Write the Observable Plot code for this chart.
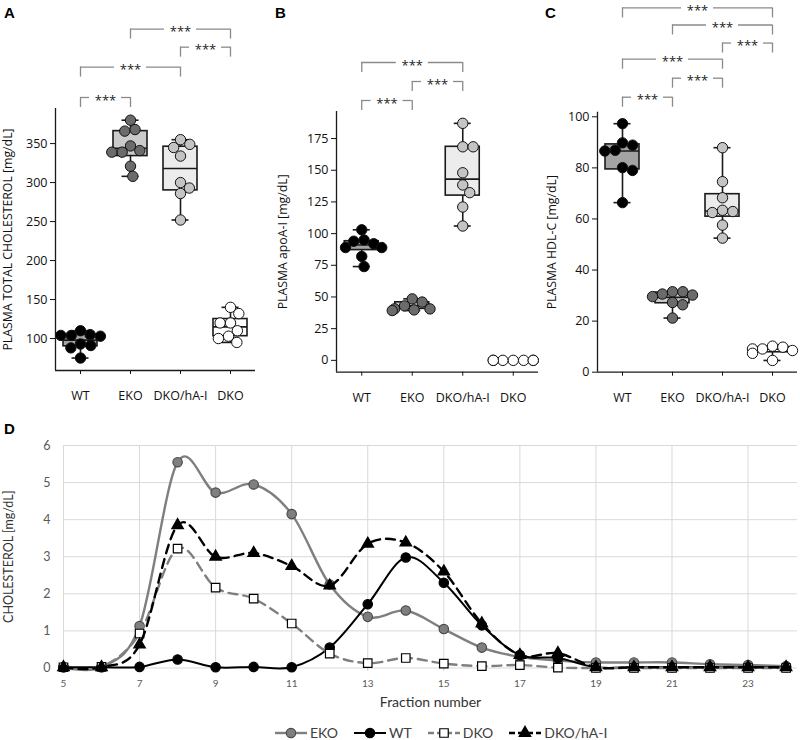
<!DOCTYPE html>
<html><head><meta charset="utf-8">
<script src="https://cdn.jsdelivr.net/npm/d3@7"></script>
<script src="https://cdn.jsdelivr.net/npm/@observablehq/plot@0.6"></script>
<style>
body{margin:0;background:#fff;}
#wrap{position:relative;width:800px;height:740px;overflow:hidden;font-family:"Open Sans",sans-serif;background:#fff;}
.panel{position:absolute;}
.letter{position:absolute;font:bold 15px "Liberation Sans",Arial,sans-serif;color:#000;line-height:15px;}
g[aria-label="sig"] text{letter-spacing:3px;}
</style></head><body><div id="wrap"></div>
<script>
// ---------- categories ----------
const groups = ["WT", "EKO", "DKO/hA-I", "DKO"];

// ---------- Panel A: plasma total cholesterol (mg/dL) ----------
const aWT    = [110, 105, 104, 104, 103, 93, 91, 88, 75];
const aEKO   = [380, 368, 366, 347, 341, 339, 339, 321, 308];
const aDKOhA = [355, 349, 345, 334, 300, 293, 286, 252];
const aDKO   = [140, 132, 120, 120, 110, 103, 100, 95];
const aQ1  = [90, 334, 290, 103];
const aMed = [98, 344, 318, 115];
const aQ3  = [105, 366, 346, 125];
const aTicks = [100, 150, 200, 250, 300, 350];
const aPairs = [["WT", "EKO"], ["WT", "DKO/hA-I"], ["DKO/hA-I", "DKO"], ["EKO", "DKO"]];
const aLevels = [0, 1.6, 2.65, 3.6];

// ---------- Panel B: plasma apoA-I (mg/dL) ----------
const bWT    = [103, 95, 94, 92, 89, 89, 82, 74];
const bEKO   = [48.5, 46, 43, 40.6, 40.6, 39.8, 39.3];
const bDKOhA = [187, 168.5, 168.5, 148, 138.4, 132.3, 121, 106];
const bDKO   = [0, 0, 0, 0, 0, 0, 0];
const bQ1  = [87, 40.6, 130, 0];
const bMed = [91, 43, 143, 0];
const bQ3  = [94, 45.8, 168.5, 0];
const bTicks = [0, 25, 50, 75, 100, 125, 150, 175];
const bPairs = [["WT", "EKO"], ["EKO", "DKO/hA-I"], ["WT", "DKO/hA-I"]];
const bLevels = [0, 1, 2];

// ---------- Panel C: plasma HDL-C (mg/dL) ----------
const cWT    = [97.3, 89.8, 88.9, 86.9, 86.6, 80.1, 79, 66.4];
const cEKO   = [31.5, 31.5, 30.6, 30.2, 29.6, 27.3, 26.4, 21.2];
const cDKOhA = [87.9, 74.6, 68.3, 63.4, 62.9, 62.5, 57.6, 52.5];
const cDKO   = [10.2, 9.8, 9.1, 9.1, 8.5, 7.4, 4.6];
const cQ1  = [79.4, 27, 60.9, 7.8];
const cMed = [86.6, 29.3, 63.1, 9];
const cQ3  = [89.2, 31.2, 69.7, 9.8];
const cTicks = [0, 20, 40, 60, 80, 100];
const cPairs = [["WT", "EKO"], ["EKO", "DKO/hA-I"], ["WT", "DKO/hA-I"], ["DKO/hA-I", "DKO"], ["EKO", "DKO"], ["WT", "DKO"]];
const cLevels = [0, 1, 2, 2.85, 3.8, 4.7];
const sigLabel = "***";

// ---------- Panel D: FPLC cholesterol profile (mg/dL) ----------
const fractions = [5, 6, 7, 8, 9, 10, 11, 12, 13, 14, 15, 16, 17, 18, 19, 20, 21, 22, 23, 24];
const dEKO   = [0.02, 0.03, 1.13, 5.55, 4.73, 4.95, 4.15, 2.25, 1.38, 1.55, 1.05, 0.55, 0.3, 0.2, 0.15, 0.15, 0.15, 0.1, 0.08, 0.05];
const dWT    = [0.02, 0.02, 0.03, 0.23, 0.02, 0.03, 0.02, 0.55, 1.72, 2.98, 2.3, 1.15, 0.35, 0.27, 0.02, 0.02, 0.02, 0.02, 0.02, 0.02];
const dDKO   = [0.02, 0.03, 0.93, 3.22, 2.17, 1.87, 1.2, 0.39, 0.13, 0.27, 0.12, 0.05, 0.08, 0.01, 0.0, 0.0, 0.0, 0.0, 0.0, 0.0];
const dDKOhA = [0.02, 0.02, 0.63, 3.85, 3.0, 3.1, 2.75, 2.22, 3.35, 3.38, 2.6, 1.2, 0.35, 0.4, 0.02, 0.02, 0.02, 0.02, 0.02, 0.02];
const dXTicks = [5, 7, 9, 11, 13, 15, 17, 19, 21, 23];
const dYTicks = [0, 1, 2, 3, 4, 5, 6];
const seriesNames = ["EKO", "WT", "DKO", "DKO/hA-I"];

// ---------- styles ----------
const ptFill  = ["#000000", "#6b6b6b", "#c4c4c4", "#ffffff"];
const boxFill = ["#a3a3a3", "#cbcbcb", "#ececec", "#ffffff"];

const wrap = document.getElementById("wrap");

function swarmOffsets(pys, r, lim) {
  const order = d3.range(pys.length).sort((a, b) => pys[b] - pys[a]);
  const placed = [], off = new Array(pys.length), d2 = 4 * r * r;
  for (const i of order) {
    const y = pys[i];
    const near = placed.filter(p => Math.abs(p.y - y) < 2 * r);
    const cands = [0];
    for (const p of near) { const dx = Math.sqrt(d2 - (p.y - y) ** 2); cands.push(p.x + dx, p.x - dx); }
    cands.sort((a, b) => Math.abs(a) - Math.abs(b));
    let x = cands.find(c => near.every(p => (p.x - c) ** 2 + (p.y - y) ** 2 >= d2 - 1e-6));
    if (x === undefined) x = 0;
    placed.push({x, y}); off[i] = x;
  }
  return off.map(x => Math.max(-lim, Math.min(lim, x)));
}

function boxPanel(o) {
  const {values, q1, med, q3, yDomain, yTicks, yLabel, labelDx, pairs, levels, base,
         left, width, height, marginLeft, marginRight, marginTop, marginBottom} = o;
  const innerH = height - marginTop - marginBottom;
  const innerW = width - marginLeft - marginRight;
  const [y0, y1] = yDomain;
  const kY = innerH / (y1 - y0), kX = innerW / 4;
  const r = 5.2;
  const pts = [];
  values.forEach((vals, gi) => {
    const offs = swarmOffsets(vals.map(v => v * kY), r, 20);
    vals.forEach((v, j) => pts.push({g: gi, x: gi + offs[j] / kX, y: v}));
  });
  const boxes = groups.map((g, i) => ({i, q1: q1[i], med: med[i], q3: q3[i], lo: d3.min(values[i]), hi: d3.max(values[i])}));
  const bw = 17 / kX, cw = 8.5 / kX, gap = 16 / kX;
  const segs = [], drops = [], labs = [];
  pairs.forEach(([a, b], k) => {
    const ia = groups.indexOf(a), ib = groups.indexOf(b);
    const py = base + levels[k] * 19;
    const yv = y1 + py / kY, yd = y1 + (py - 10) / kY, mid = (ia + ib) / 2;
    segs.push({x1: ia, x2: mid - gap, y: yv}, {x1: mid + gap, x2: ib, y: yv});
    drops.push({x: ia, y1: yd, y2: yv}, {x: ib, y1: yd, y2: yv});
    labs.push({x: mid, y: yv, t: sigLabel});
  });
  const lw = 1.6, ink = "#1a1a1a";
  const svg = Plot.plot({
    width, height, marginLeft, marginRight, marginTop, marginBottom,
    style: {fontFamily: "Open Sans", fontSize: "12.5px", color: "#111", background: "transparent", overflow: "visible"},
    color: {type: "identity"},
    x: {domain: [-0.5, 3.5], ticks: [0, 1, 2, 3], tickFormat: i => groups[i], tickSize: 4, tickPadding: 17, label: null},
    y: {domain: yDomain, ticks: yTicks, tickFormat: d => String(d), tickSize: 5, tickPadding: 3, label: null},
    marks: [
      Plot.rect(boxes, {x1: d => d.i - bw, x2: d => d.i + bw, y1: "q1", y2: "q3", fill: d => boxFill[d.i], stroke: ink, strokeWidth: lw}),
      Plot.ruleX(boxes, {x: "i", y1: "q3", y2: "hi", stroke: ink, strokeWidth: lw}),
      Plot.ruleX(boxes, {x: "i", y1: "lo", y2: "q1", stroke: ink, strokeWidth: lw}),
      Plot.ruleY(boxes, {y: "hi", x1: d => d.i - cw, x2: d => d.i + cw, stroke: ink, strokeWidth: lw}),
      Plot.ruleY(boxes, {y: "lo", x1: d => d.i - cw, x2: d => d.i + cw, stroke: ink, strokeWidth: lw}),
      Plot.ruleY(boxes, {y: "med", x1: d => d.i - bw, x2: d => d.i + bw, stroke: ink, strokeWidth: lw}),
      Plot.dot(pts, {x: "x", y: "y", r, fill: d => ptFill[d.g], stroke: "#111", strokeWidth: 1}),
      Plot.ruleX([-0.5], {y1: y0, y2: y1, stroke: ink, strokeWidth: 1.3}),
      Plot.ruleY([y0], {x1: -0.5, x2: 3.5, stroke: ink, strokeWidth: 1.3}),
      Plot.ruleY(segs, {y: "y", x1: "x1", x2: "x2", stroke: "#8a8a8a", strokeWidth: 1.3}),
      Plot.ruleX(drops, {x: "x", y1: "y1", y2: "y2", stroke: "#8a8a8a", strokeWidth: 1.3}),
      Plot.text(labs, {x: "x", y: "y", text: "t", lineAnchor: "bottom", dy: 7, fontSize: 13, fill: "#222", ariaLabel: "sig"}),
      Plot.text([yLabel], {text: d => d, frameAnchor: "left", textAnchor: "middle", rotate: -90, dx: labelDx, fontSize: 12.3, fill: "#111"})
    ]
  });
  svg.classList.add("panel");
  svg.style.left = left + "px"; svg.style.top = "0px";
  wrap.appendChild(svg);
}

boxPanel({values: [aWT, aEKO, aDKOhA, aDKO], q1: aQ1, med: aMed, q3: aQ3, yDomain: [59, 395], yTicks: aTicks,
  yLabel: "PLASMA TOTAL CHOLESTEROL [mg/dL]", labelDx: -47, pairs: aPairs, levels: aLevels, base: 11,
  left: 0, width: 262, height: 405, marginLeft: 55, marginRight: 7, marginTop: 108, marginBottom: 35});
boxPanel({values: [bWT, bEKO, bDKOhA, bDKO], q1: bQ1, med: bMed, q3: bQ3, yDomain: [-9.35, 196.35], yTicks: bTicks,
  yLabel: "PLASMA apoA-I [mg/dL]", labelDx: -53, pairs: bPairs, levels: bLevels, base: 11,
  left: 262, width: 280, height: 405, marginLeft: 74, marginRight: 4, marginTop: 111, marginBottom: 33.3});
boxPanel({values: [cWT, cEKO, cDKOhA, cDKO], q1: cQ1, med: cMed, q3: cQ3, yDomain: [0, 101.8], yTicks: cTicks,
  yLabel: "PLASMA HDL-C [mg/dL]", labelDx: -45, pairs: cPairs, levels: cLevels, base: 15,
  left: 530, width: 270, height: 405, marginLeft: 67, marginRight: 3, marginTop: 111.7, marginBottom: 33.3});

// ---------- Panel D ----------
const seriesVals = [dEKO, dWT, dDKO, dDKOhA];
const seriesStyle = [
  {stroke: "#7f7f7f", width: 2.4, dash: null, symbol: "circle", r: 4.7, fill: "#7f7f7f", mstroke: "#4a4a4a"},
  {stroke: "#000000", width: 2.0, dash: null, symbol: "circle", r: 4.7, fill: "#000000", mstroke: "#000000"},
  {stroke: "#7f7f7f", width: 2.4, dash: "9,6", symbol: "square", r: 4.8, fill: "#ffffff", mstroke: "#000000"},
  {stroke: "#000000", width: 2.4, dash: "9,6", symbol: "triangle", r: 4.3, fill: "#000000", mstroke: "#000000"}
];
const dMarks = [
  Plot.ruleY(dYTicks, {stroke: "#d9d9d9", strokeWidth: 1}),
  Plot.ruleX(dXTicks, {y1: 0, y2: 6, stroke: "#d9d9d9", strokeWidth: 1}),
  Plot.axisX({ticks: dXTicks, tickFormat: d => String(d), tickSize: 3, tickPadding: 9, fontSize: 10, stroke: "#bfbfbf", label: null}),
  Plot.axisY({ticks: dYTicks, tickFormat: d => String(d), tickSize: 0, tickPadding: 13, fontSize: 12.5, label: null})
];
seriesVals.forEach((vals, k) => {
  const st = seriesStyle[k];
  const rows = fractions.map((f, i) => ({f, v: vals[i]}));
  dMarks.push(Plot.line(rows, {x: "f", y: "v", curve: "cardinal", stroke: st.stroke, strokeWidth: st.width, strokeDasharray: st.dash}));
  dMarks.push(Plot.dot(rows, {x: "f", y: "v", symbol: st.symbol, r: st.r, fill: st.fill, stroke: st.mstroke, strokeWidth: 1.2}));
});
dMarks.push(Plot.text(["Fraction number"], {text: d => d, frameAnchor: "bottom", dy: 34.5, lineAnchor: "middle", fontSize: 14, fill: "#333"}));
dMarks.push(Plot.text(["CHOLESTEROL [mg/dL]"], {text: d => d, frameAnchor: "left", textAnchor: "middle", rotate: -90, dx: -55, fontSize: 12.5, fill: "#333"}));
const dSvg = Plot.plot({
  width: 800, height: 305, marginLeft: 63, marginRight: 3, marginTop: 35, marginBottom: 47.5,
  style: {fontFamily: "Lato", fontSize: "10px", color: "#595959", background: "transparent", overflow: "visible"},
  x: {domain: [5, 24.3]},
  y: {domain: [0, 6]},
  marks: dMarks
});
dSvg.classList.add("panel");
dSvg.style.left = "0px"; dSvg.style.top = "410px";
wrap.appendChild(dSvg);

// ---------- legend ----------
const leg = document.createElement("div");
leg.style.cssText = "position:absolute;left:275px;top:724px;display:flex;align-items:center;gap:16px;font:14px Lato;color:#404040;line-height:18px;";
seriesNames.forEach((name, k) => {
  const st = seriesStyle[k];
  const item = document.createElement("div");
  item.style.cssText = "display:flex;align-items:center;gap:3px;";
  const s = d3.create("svg").attr("width", 32).attr("height", 18);
  s.append("line").attr("x1", 0).attr("x2", 32).attr("y1", 9).attr("y2", 9)
    .attr("stroke", st.stroke).attr("stroke-width", st.width).attr("stroke-dasharray", st.dash ? "6,3" : null);
  const sym = {circle: d3.symbolCircle, square: d3.symbolSquare, triangle: d3.symbolTriangle}[st.symbol];
  s.append("path").attr("transform", "translate(16,9)").attr("d", d3.symbol(sym, Math.PI * st.r * st.r)())
    .attr("fill", st.fill).attr("stroke", st.mstroke).attr("stroke-width", 1.2);
  item.appendChild(s.node());
  const t = document.createElement("span"); t.textContent = name;
  item.appendChild(t);
  leg.appendChild(item);
});
wrap.appendChild(leg);

// ---------- panel letters ----------
[["A", 4, 5], ["B", 275, 5], ["C", 545, 5], ["D", 4, 421]].forEach(([l, x, y]) => {
  const d = document.createElement("div");
  d.className = "letter"; d.textContent = l;
  d.style.left = x + "px"; d.style.top = y + "px";
  wrap.appendChild(d);
});
</script></body></html>
